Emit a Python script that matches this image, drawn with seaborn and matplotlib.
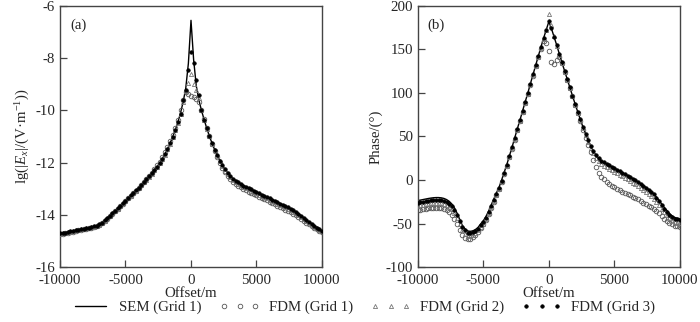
import numpy as np
import pandas as pd
import matplotlib
matplotlib.use("Agg")
import matplotlib.pyplot as plt
import seaborn as sns

# ---------------- data ----------------
offset = np.arange(-10000, 10001, 200)

amp_sem = [
    -14.70, -14.69, -14.67, -14.65, -14.63, -14.61, -14.59, -14.57, -14.55, -14.53,
    -14.51, -14.49, -14.47, -14.44, -14.41, -14.37, -14.30, -14.21, -14.12, -14.03,
    -13.94, -13.85, -13.75, -13.65, -13.55, -13.46, -13.36, -13.26, -13.16, -13.06,
    -12.96, -12.86, -12.75, -12.64, -12.53, -12.41, -12.29, -12.16, -12.02, -11.86,
    -11.68, -11.48, -11.26, -11.02, -10.75, -10.45, -10.10, -9.68, -9.15, -8.20,
    -6.55,
    -8.05, -9.05, -9.60, -10.00, -10.35, -10.68, -10.98, -11.25, -11.50, -11.72,
    -11.92, -12.10, -12.26, -12.40, -12.52, -12.61, -12.68, -12.75, -12.81, -12.87,
    -12.92, -12.97, -13.02, -13.07, -13.12, -13.17, -13.22, -13.27, -13.31, -13.36,
    -13.41, -13.46, -13.51, -13.56, -13.61, -13.66, -13.71, -13.76, -13.82, -13.88,
    -13.95, -14.03, -14.11, -14.19, -14.27, -14.34, -14.41, -14.48, -14.55, -14.61,
]

amp_g1 = [
    -14.74, -14.72, -14.70, -14.68, -14.66, -14.64, -14.62, -14.60, -14.58, -14.56,
    -14.54, -14.52, -14.50, -14.47, -14.44, -14.40, -14.33, -14.24, -14.15, -14.06,
    -13.96, -13.87, -13.77, -13.67, -13.57, -13.47, -13.37, -13.27, -13.17, -13.07,
    -12.97, -12.86, -12.75, -12.63, -12.51, -12.38, -12.25, -12.11, -11.96, -11.79,
    -11.60, -11.40, -11.18, -10.94, -10.68, -10.38, -10.00, -9.62, -9.28, -9.38,
    -9.45,
    -9.50, -9.56, -9.66, -9.98, -10.32, -10.68, -11.00, -11.29, -11.56, -11.80,
    -12.01, -12.20, -12.37, -12.52, -12.64, -12.74, -12.82, -12.89, -12.95, -13.01,
    -13.06, -13.11, -13.16, -13.21, -13.26, -13.31, -13.36, -13.40, -13.45, -13.50,
    -13.55, -13.60, -13.65, -13.70, -13.75, -13.80, -13.85, -13.90, -13.96, -14.02,
    -14.09, -14.16, -14.23, -14.30, -14.37, -14.44, -14.50, -14.56, -14.62, -14.67,
]

amp_g2 = [
    -14.72, -14.70, -14.68, -14.66, -14.64, -14.62, -14.60, -14.58, -14.56, -14.54,
    -14.52, -14.50, -14.48, -14.45, -14.42, -14.38, -14.31, -14.22, -14.13, -14.04,
    -13.95, -13.86, -13.76, -13.66, -13.56, -13.47, -13.37, -13.27, -13.17, -13.07,
    -12.97, -12.87, -12.76, -12.65, -12.54, -12.42, -12.30, -12.17, -12.03, -11.87,
    -11.69, -11.49, -11.27, -11.03, -10.77, -10.48, -10.14, -9.66, -9.26, -8.95,
    -8.60,
    -9.00, -9.22, -9.52, -10.00, -10.36, -10.70, -11.00, -11.27, -11.52, -11.75,
    -11.95, -12.14, -12.31, -12.45, -12.57, -12.67, -12.74, -12.81, -12.87, -12.93,
    -12.98, -13.03, -13.08, -13.13, -13.18, -13.23, -13.28, -13.33, -13.37, -13.42,
    -13.47, -13.52, -13.57, -13.62, -13.67, -13.72, -13.77, -13.82, -13.88, -13.94,
    -14.01, -14.09, -14.17, -14.24, -14.32, -14.39, -14.46, -14.52, -14.58, -14.63,
]

amp_g3 = [
    -14.71, -14.69, -14.68, -14.66, -14.63, -14.61, -14.59, -14.57, -14.55, -14.53,
    -14.51, -14.49, -14.47, -14.44, -14.41, -14.37, -14.30, -14.21, -14.12, -14.03,
    -13.94, -13.85, -13.75, -13.65, -13.55, -13.46, -13.36, -13.26, -13.16, -13.06,
    -12.96, -12.86, -12.75, -12.64, -12.53, -12.41, -12.29, -12.16, -12.02, -11.86,
    -11.68, -11.48, -11.26, -11.02, -10.76, -10.46, -10.12, -9.62, -9.20, -8.47,
    -7.75,
    -8.18, -8.85, -9.40, -9.98, -10.35, -10.68, -10.98, -11.25, -11.50, -11.72,
    -11.92, -12.10, -12.26, -12.40, -12.52, -12.62, -12.69, -12.76, -12.82, -12.88,
    -12.93, -12.98, -13.03, -13.08, -13.13, -13.18, -13.23, -13.28, -13.32, -13.37,
    -13.42, -13.47, -13.52, -13.57, -13.62, -13.67, -13.72, -13.77, -13.83, -13.89,
    -13.96, -14.04, -14.12, -14.20, -14.28, -14.35, -14.42, -14.49, -14.56, -14.62,
]

pha_sem = [
    -23.7, -23.1, -22.5, -21.9, -21.3, -20.8, -20.4, -20.2, -20.2, -20.5,
    -21.2, -22.5, -24.5, -27.5, -32.0, -38.0, -45.0, -52.0, -56.0, -58.5,
    -59.0, -58.5, -57.0, -54.5, -50.5, -47.0, -42.0, -36.0, -29.0, -22.0,
    -15.0, -8.5, 0.0, 9.0, 18.0, 28.0, 38.0, 48.5, 59.0, 69.0,
    79.5, 90.0, 100.0, 111.0, 121.5, 132.0, 142.5, 153.0, 163.0, 172.5,
    182.0,
    174.0, 164.5, 155.0, 145.0, 135.0, 125.5, 116.0, 106.5, 97.0, 87.5,
    78.5, 69.5, 61.0, 53.0, 45.5, 39.0, 33.0, 28.5, 25.0, 22.0,
    20.0, 18.3, 16.8, 15.2, 13.6, 12.0, 10.3, 8.6, 6.9, 5.2,
    3.4, 1.6, -0.3, -2.2, -4.2, -6.3, -8.5, -10.8, -13.3, -16.0,
    -19.5, -23.5, -27.5, -31.5, -35.0, -38.5, -41.2, -43.0, -44.0, -44.5,
]

pha_g1 = [
    -34.5, -34.0, -33.5, -33.0, -32.6, -32.2, -32.0, -31.9, -32.0, -32.4,
    -33.2, -34.6, -36.8, -40.0, -44.6, -50.5, -57.0, -63.0, -66.5, -68.0,
    -67.5, -66.0, -63.5, -60.0, -55.5, -51.0, -45.5, -39.0, -32.0, -24.8,
    -17.5, -10.5, -2.0, 7.0, 16.0, 26.0, 36.0, 46.5, 57.0, 67.5,
    78.0, 88.5, 98.5, 109.5, 120.0, 130.5, 141.0, 151.0, 160.0, 157.0,
    148.0,
    136.0, 133.5, 138.0, 141.0, 134.0, 124.5, 115.0, 105.5, 96.0, 86.5,
    77.0, 67.5, 58.0, 48.5, 40.0, 32.0, 23.0, 15.0, 8.5, 4.0,
    1.0, -2.0, -4.5, -6.5, -8.3, -10.0, -11.7, -13.3, -14.7, -16.0,
    -17.5, -19.0, -20.7, -22.4, -24.2, -26.0, -27.8, -29.5, -31.2, -33.0,
    -35.5, -38.5, -41.5, -44.5, -47.0, -49.3, -51.0, -52.3, -53.2, -53.8,
]

pha_g2 = [
    -29.8, -29.2, -28.6, -28.0, -27.5, -27.0, -26.7, -26.5, -26.5, -26.8,
    -27.5, -28.8, -30.8, -33.8, -38.3, -44.0, -50.8, -57.5, -61.5, -63.8,
    -64.0, -63.0, -61.0, -58.0, -53.8, -50.0, -44.8, -38.5, -31.3, -24.2,
    -17.0, -10.2, -1.6, 7.5, 16.6, 26.8, 36.8, 47.4, 57.8, 68.0,
    78.5, 89.0, 99.0, 110.0, 120.5, 131.0, 141.5, 152.0, 162.0, 172.0,
    191.0,
    178.0, 165.0, 154.0, 144.0, 134.0, 124.5, 115.0, 105.5, 96.0, 86.5,
    77.5, 68.5, 60.0, 51.8, 44.0, 37.0, 30.5, 25.6, 21.8, 18.6,
    16.5, 14.6, 13.0, 11.3, 9.6, 7.9, 6.1, 4.3, 2.5, 0.7,
    -1.2, -3.1, -5.1, -7.1, -9.2, -11.4, -13.7, -16.1, -18.7, -21.5,
    -25.0, -29.0, -33.0, -37.0, -40.6, -44.0, -46.7, -48.3, -49.1, -49.5,
]

pha_g3 = [
    -26.2, -25.6, -25.0, -24.4, -23.9, -23.5, -23.2, -23.0, -23.0, -23.3,
    -24.0, -25.3, -27.3, -30.3, -34.8, -40.5, -47.3, -54.0, -58.0, -60.5,
    -61.0, -60.3, -58.7, -56.0, -52.0, -48.3, -43.2, -37.0, -30.0, -23.0,
    -15.8, -9.2, -0.7, 8.4, 17.5, 27.6, 37.6, 48.2, 58.7, 68.8,
    79.3, 89.8, 99.8, 110.8, 121.3, 131.8, 142.3, 152.8, 162.8, 172.5,
    182.5,
    174.5, 164.8, 155.2, 145.2, 135.2, 125.6, 116.0, 106.5, 97.0, 87.6,
    78.6, 69.7, 61.2, 53.3, 46.0, 39.6, 33.5, 29.0, 25.4, 22.3,
    20.2, 18.4, 16.8, 15.1, 13.5, 11.9, 10.2, 8.5, 6.8, 5.0,
    3.2, 1.4, -0.5, -2.4, -4.4, -6.5, -8.7, -11.0, -13.6, -16.5,
    -20.2, -24.5, -28.7, -32.8, -36.5, -40.0, -42.8, -44.5, -45.3, -45.6,
]

series_labels = ["SEM (Grid 1)", "FDM (Grid 1)", "FDM (Grid 2)", "FDM (Grid 3)"]
panel_tags = ["(a)", "(b)"]
x_ticks = [-10000, -5000, 0, 5000, 10000]
amp_ticks = [-16, -14, -12, -10, -8, -6]
pha_ticks = [-100, -50, 0, 50, 100, 150, 200]

# ---------------- style ----------------
sns.set_style("ticks")
plt.rcParams["font.family"] = ["Liberation Serif", "DejaVu Serif"]
plt.rcParams["mathtext.fontset"] = "custom"
plt.rcParams["mathtext.rm"] = "Liberation Serif"
plt.rcParams["mathtext.it"] = "Liberation Serif:italic"
FS = 10.7

fig = plt.figure(figsize=(7.0, 3.22), dpi=100)
ax1 = fig.add_axes([0.0857, 0.1708, 0.3743, 0.8106])
ax2 = fig.add_axes([0.5967, 0.1708, 0.3747, 0.8106])


def draw(ax, sem, g1, g2, g3):
    df = pd.DataFrame({"x": offset, "sem": sem, "g1": g1, "g2": g2, "g3": g3})
    sns.lineplot(data=df, x="x", y="sem", ax=ax, color="black", lw=1.0,
                 label=series_labels[0], sort=False, estimator=None, zorder=2)
    sns.lineplot(data=df, x="x", y="g1", ax=ax, color="#555555", linestyle="",
                 marker="o", markersize=3.3, markerfacecolor="none",
                 markeredgecolor="#555555", markeredgewidth=0.6,
                 label=series_labels[1], sort=False, estimator=None, zorder=3)
    sns.lineplot(data=df, x="x", y="g2", ax=ax, color="#777777", linestyle="",
                 marker="^", markersize=3.0, markerfacecolor="none",
                 markeredgecolor="#777777", markeredgewidth=0.6,
                 label=series_labels[2], sort=False, estimator=None, zorder=4)
    sns.lineplot(data=df, x="x", y="g3", ax=ax, color="black", linestyle="",
                 marker="o", markersize=2.6, markerfacecolor="black",
                 markeredgecolor="black", markeredgewidth=0.4,
                 label=series_labels[3], sort=False, estimator=None, zorder=5)


draw(ax1, amp_sem, amp_g1, amp_g2, amp_g3)
draw(ax2, pha_sem, pha_g1, pha_g2, pha_g3)

for ax, yt, tag in [(ax1, amp_ticks, panel_tags[0]), (ax2, pha_ticks, panel_tags[1])]:
    ax.set_xlim(-10000, 10000)
    ax.set_ylim(yt[0], yt[-1])
    ax.set_xticks(x_ticks)
    ax.set_yticks(yt)
    ax.set_xticklabels([str(v) for v in x_ticks], fontsize=FS)
    ax.set_yticklabels([str(v) for v in yt], fontsize=FS)
    ax.tick_params(direction="in", length=5, width=0.9, color="#444444",
                   top=False, right=False)
    ax.tick_params(axis="x", pad=5.0)
    ax.tick_params(axis="y", pad=3.5)
    for s in ax.spines.values():
        s.set_visible(True)
        s.set_color("#444444")
        s.set_linewidth(1.0)
    ax.set_xlabel("Offset/m", fontsize=FS, labelpad=0.3)
    ax.text(0.038, 0.925, tag, transform=ax.transAxes, fontsize=FS,
            ha="left", va="center")
    if ax.get_legend() is not None:
        ax.get_legend().remove()

ax1.set_ylabel(r"lg(|$E_x$|/(V·m$^{-1}$))", fontsize=FS, labelpad=2)
ax2.set_ylabel("Phase/(°)", fontsize=FS, labelpad=2)

handles, labels = ax1.get_legend_handles_labels()
fig.legend(handles, labels, loc="center", bbox_to_anchor=(0.518, 0.045),
           ncol=4, frameon=False, fontsize=FS, numpoints=3,
           handlelength=2.7, handletextpad=0.6, columnspacing=1.2,
           borderpad=0, borderaxespad=0)

fig.savefig("out.png", dpi=100)
